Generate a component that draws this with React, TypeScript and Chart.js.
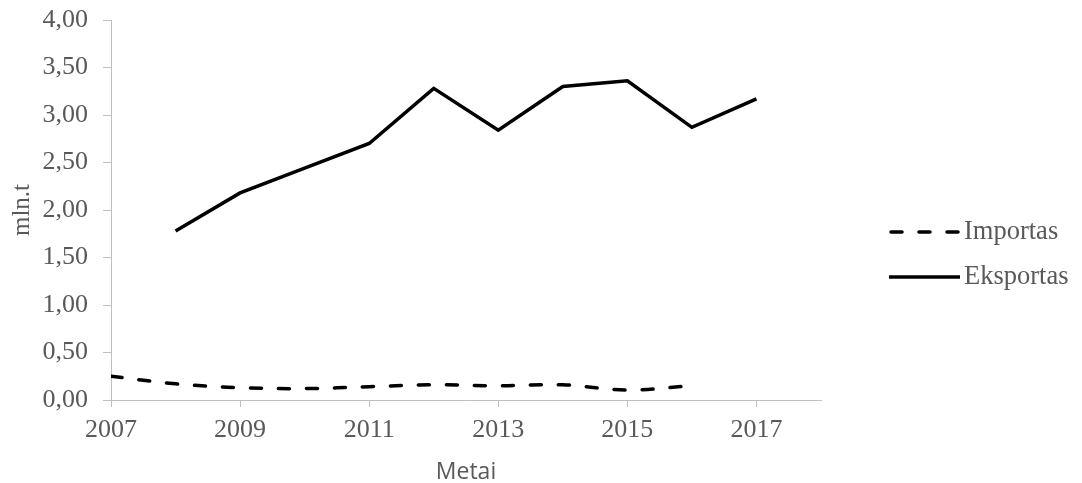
import { useEffect, useRef } from "react";
import { Chart, registerables } from "chart.js";

Chart.register(...registerables);

// Metai (years) on the horizontal axis
const years = [2007, 2008, 2009, 2010, 2011, 2012, 2013, 2014, 2015, 2016, 2017];
// Importas, mln.t
const importas = [0.25, 0.17, 0.13, 0.12, 0.14, 0.16, 0.15, 0.16, 0.105, 0.15, null];
// Eksportas, mln.t
const eksportas = [null, 1.78, 2.18, 2.44, 2.7, 3.28, 2.84, 3.3, 3.36, 2.87, 3.17];

const xTickValues = [2007, 2009, 2011, 2013, 2015, 2017];
const yTickValues = [0, 0.5, 1, 1.5, 2, 2.5, 3, 3.5, 4];
const seriesNames = ["Importas", "Eksportas"];
const axisTitles = { x: "Metai", y: "mln.t" };

const TEXT = "#595959";
const AXIS = "#bfbfbf";
const SERIF = "'Liberation Serif', 'Times New Roman', serif";
const SANS = "'Open Sans', 'Noto Sans', sans-serif";
const IMPORT_DASH = [11, 17];

const toPoints = (vals: (number | null)[]) =>
  years.map((x, i) => ({ x, y: vals[i] })).filter((p) => p.y !== null);

// Legend drawn to the right of the plot: a line sample followed by the series name
const sideLegend = {
  id: "sideLegend",
  afterDraw(chart: any) {
    const ctx = chart.ctx;
    const items = [
      { label: seriesNames[0], dash: IMPORT_DASH, y: 232 },
      { label: seriesNames[1], dash: [] as number[], y: 277 },
    ];
    ctx.save();
    for (const it of items) {
      ctx.beginPath();
      ctx.setLineDash(it.dash);
      ctx.lineWidth = 3.5;
      ctx.lineCap = it.dash.length ? "round" : "butt";
      ctx.strokeStyle = "#000";
      ctx.moveTo(it.dash.length ? 891 : 889, it.y);
      ctx.lineTo(960, it.y);
      ctx.stroke();
      ctx.setLineDash([]);
      ctx.font = `26.5px ${SERIF}`;
      ctx.fillStyle = TEXT;
      ctx.textAlign = "left";
      ctx.textBaseline = "middle";
      ctx.fillText(it.label, 964, it.y);
    }
    ctx.restore();
  },
};

export default function App() {
  const ref = useRef<HTMLCanvasElement>(null);

  useEffect(() => {
    document.body.style.margin = "0";
    if (!ref.current) return;
    const chart = new Chart(ref.current, {
      type: "line",
      data: {
        datasets: [
          {
            label: seriesNames[0],
            data: toPoints(importas) as any,
            borderColor: "#000",
            borderWidth: 3.5,
            borderDash: IMPORT_DASH,
            borderCapStyle: "round",
            tension: 0.35,
            pointRadius: 0,
            fill: false,
          },
          {
            label: seriesNames[1],
            data: toPoints(eksportas) as any,
            borderColor: "#000",
            borderWidth: 3.5,
            borderJoinStyle: "miter",
            tension: 0,
            pointRadius: 0,
            fill: false,
          },
        ],
      },
      options: {
        responsive: false,
        animation: false,
        devicePixelRatio: 1,
        layout: { padding: { top: 20, right: 261, bottom: 0, left: 0 } },
        plugins: {
          legend: { display: false },
          tooltip: { enabled: false },
        },
        scales: {
          x: {
            type: "linear",
            min: 2007,
            max: 2018,
            afterBuildTicks: (s: any) => {
              s.ticks = xTickValues.map((value) => ({ value }));
            },
            afterFit: (s: any) => {
              s.height = 83;
              s.paddingLeft = 0;
              s.paddingRight = 0;
            },
            ticks: {
              color: TEXT,
              font: { family: SERIF, size: 26 },
              padding: 8,
              maxRotation: 0,
              callback: (v: any) => String(v),
            },
            grid: {
              display: true,
              drawOnChartArea: false,
              drawTicks: true,
              tickLength: 7,
              color: AXIS,
            },
            border: { display: true, color: AXIS, width: 1 },
            title: {
              display: true,
              text: axisTitles.x,
              color: TEXT,
              font: { family: SANS, size: 23 },
              padding: { top: 0, bottom: -3 },
            },
          },
          y: {
            min: 0,
            max: 4,
            afterBuildTicks: (s: any) => {
              s.ticks = yTickValues.map((value) => ({ value }));
            },
            afterFit: (s: any) => {
              s.width = 111;
              s.paddingTop = 0;
              s.paddingBottom = 0;
            },
            ticks: {
              color: TEXT,
              font: { family: SERIF, size: 26 },
              padding: 15,
              callback: (v: any) => Number(v).toFixed(2).replace(".", ","),
            },
            grid: {
              display: true,
              drawOnChartArea: false,
              drawTicks: true,
              tickLength: 8,
              color: AXIS,
            },
            border: { display: true, color: AXIS, width: 1 },
            title: {
              display: true,
              text: axisTitles.y,
              color: TEXT,
              font: { family: SERIF, size: 25 },
              padding: 7,
            },
          },
        },
      },
      plugins: [sideLegend],
    });
    return () => chart.destroy();
  }, []);

  return (
    <div style={{ width: 1082, height: 483 }}>
      <canvas ref={ref} width={1082} height={483} />
    </div>
  );
}
